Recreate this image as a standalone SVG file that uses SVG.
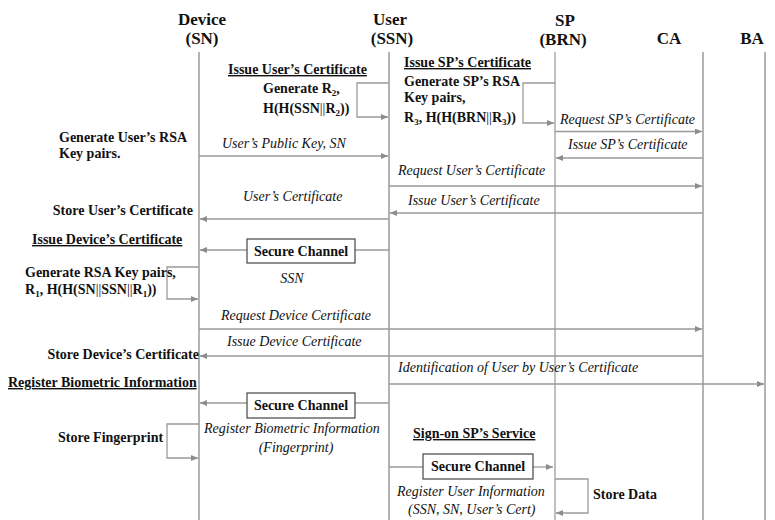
<svg xmlns="http://www.w3.org/2000/svg" width="775" height="520" viewBox="0 0 775 520">
  <style>
    text { font-family: "Liberation Serif", "Times New Roman", serif; fill: #111; }
    .hd { font-size: 17px; font-weight: bold; text-anchor: middle; }
    .b { font-size: 14px; font-weight: bold; }
    .i { font-size: 14px; font-style: italic; }
    .u { text-decoration: underline; }
    .end { text-anchor: end; }
    .mid { text-anchor: middle; }
    .life { stroke: #b3b3b3; stroke-width: 2; fill: none; }
    .life-dark { stroke: #808080; stroke-width: 1; fill: none; }
    .msg { stroke: #9a9a9a; stroke-width: 1.3; fill: none; }
    .arr { marker-end: url(#head); }
    .box { fill: #fff; stroke: #444; stroke-width: 1.2; }
    .sub { font-size: 9px; }
  </style>
  <defs>
    <marker id="head" markerUnits="userSpaceOnUse" markerWidth="8" markerHeight="7" refX="7" refY="3" orient="auto">
      <path d="M0,0 L7,3 L0,6 z" fill="#8c8c8c"/>
    </marker>
  </defs>
  <rect width="775" height="520" fill="#fff"/>

  <!-- participants with their lifelines -->
  <g id="device">
    <line class="life" x1="199" y1="52" x2="199" y2="520"/>
    <text class="hd" x="202" y="25">Device</text>
    <text class="hd" x="202" y="44">(SN)</text>
  </g>
  <g id="user">
    <line class="life" x1="389" y1="52" x2="389" y2="520"/>
    <text class="hd" x="390" y="25">User</text>
    <text class="hd" x="392" y="44">(SSN)</text>
  </g>
  <g id="sp">
    <line class="life-dark" x1="555" y1="52" x2="555" y2="520"/>
    <text class="hd" x="565" y="26">SP</text>
    <text class="hd" x="563" y="45">(BRN)</text>
  </g>
  <g id="ca">
    <line class="life" x1="703" y1="52" x2="703" y2="520"/>
    <text class="hd" x="669" y="44">CA</text>
  </g>
  <g id="ba">
    <line class="life" x1="765" y1="52" x2="765" y2="520"/>
    <text class="hd" x="752" y="44">BA</text>
  </g>

  <!-- messages -->
  <g id="connectors">
    <polyline class="msg arr" points="389,83 357,83 357,117 388,117"/>
    <polyline class="msg arr" points="555,83 523,83 523,123 554,123"/>
    <line class="msg arr" x1="555" y1="131.5" x2="702" y2="131.5"/>
    <line class="msg arr" x1="703" y1="158" x2="556" y2="158"/>
    <line class="msg arr" x1="199" y1="156" x2="388" y2="156"/>
    <line class="msg arr" x1="389" y1="186" x2="702" y2="186"/>
    <line class="msg arr" x1="703" y1="213" x2="390" y2="213"/>
    <line class="msg arr" x1="389" y1="219" x2="200" y2="219"/>
    <line class="msg" x1="389" y1="250" x2="355" y2="250"/>
    <line class="msg arr" x1="247" y1="250" x2="200" y2="250"/>
    <polyline class="msg arr" points="199,267 167,267 167,299 198,299"/>
    <line class="msg arr" x1="199" y1="329" x2="702" y2="329"/>
    <line class="msg arr" x1="703" y1="356" x2="200" y2="356"/>
    <line class="msg arr" x1="389" y1="384" x2="764" y2="384"/>
    <line class="msg" x1="389" y1="403" x2="355" y2="403"/>
    <line class="msg arr" x1="247" y1="403" x2="200" y2="403"/>
    <polyline class="msg arr" points="199,424 167,424 167,458 198,458"/>
    <line class="msg" x1="389" y1="467" x2="423" y2="467"/>
    <line class="msg arr" x1="533" y1="467" x2="553" y2="467"/>
    <polyline class="msg arr" points="555,479 588,479 588,513 556,513"/>
  </g>

  <!-- secure channels -->
  <g id="secure-channel-1">
    <rect class="box" x="247" y="239" width="108" height="24"/>
    <text class="b mid" x="301" y="255.5">Secure Channel</text>
  </g>
  <g id="secure-channel-2">
    <rect class="box" x="247" y="393" width="108" height="25"/>
    <text class="b mid" x="301" y="410">Secure Channel</text>
  </g>
  <g id="secure-channel-3">
    <rect class="box" x="423" y="454" width="110" height="25"/>
    <text class="b mid" x="478" y="471">Secure Channel</text>
  </g>

  <!-- step labels -->
  <g id="labels">
    <text class="b u" x="228" y="74">Issue User’s Certificate</text>
    <text class="b" x="263" y="93">Generate R<tspan class="sub" dy="3">2</tspan><tspan dy="-3">,</tspan></text>
    <text class="b" x="263" y="113">H(H(SSN<tspan font-weight="normal">||</tspan>R<tspan class="sub" dy="3">2</tspan><tspan dy="-3">))</tspan></text>

    <text class="b u" x="404" y="67">Issue SP’s Certificate</text>
    <text class="b" x="404" y="86">Generate SP’s RSA</text>
    <text class="b" x="404" y="102">Key pairs,</text>
    <text class="b" x="404" y="122">R<tspan class="sub" dy="3">3</tspan><tspan dy="-3">, H(H(BRN</tspan><tspan font-weight="normal">||</tspan>R<tspan class="sub" dy="3">3</tspan><tspan dy="-3">))</tspan></text>

    <text class="i" x="560" y="124">Request SP’s Certificate</text>
    <text class="i" x="568" y="149">Issue SP’s Certificate</text>
    <text class="i" x="398" y="175">Request  User’s Certificate</text>
    <text class="i" x="408" y="205">Issue User’s Certificate</text>

    <text class="b" x="59" y="142">Generate User’s  RSA</text>
    <text class="b" x="59" y="158">Key pairs.</text>
    <text class="i" x="222" y="148">User’s Public Key, SN</text>
    <text class="i" x="243" y="201">User’s Certificate</text>
    <text class="b end" x="193" y="215">Store User’s Certificate</text>

    <text class="b u" x="32" y="244">Issue Device’s  Certificate</text>
    <text class="i mid" x="292" y="283">SSN</text>
    <text class="b" x="25" y="277">Generate RSA Key pairs,</text>
    <text class="b" x="25" y="294">R<tspan class="sub" dy="3">1</tspan><tspan dy="-3">, H(H(SN</tspan><tspan font-weight="normal">||</tspan>SSN<tspan font-weight="normal">||</tspan>R<tspan class="sub" dy="3">1</tspan><tspan dy="-3">))</tspan></text>
    <text class="i" x="221" y="320">Request  Device Certificate</text>
    <text class="i" x="227" y="346">Issue Device Certificate</text>
    <text class="b end" x="199" y="359">Store Device’s  Certificate</text>

    <text class="i" x="398" y="372">Identification  of User by User’s Certificate</text>
    <text class="b u" x="8" y="387">Register Biometric  Information</text>
    <text class="i" x="204" y="433">Register Biometric Information</text>
    <text class="i mid" x="296" y="452">(Fingerprint)</text>
    <text class="b" x="58" y="442">Store Fingerprint</text>

    <text class="b u" x="413" y="438">Sign-on SP’s Service</text>
    <text class="i" x="397" y="496">Register User Information</text>
    <text class="i" x="408" y="514">(SSN, SN, User’s Cert)</text>
    <text class="b" x="593" y="499">Store Data</text>
  </g>
</svg>
